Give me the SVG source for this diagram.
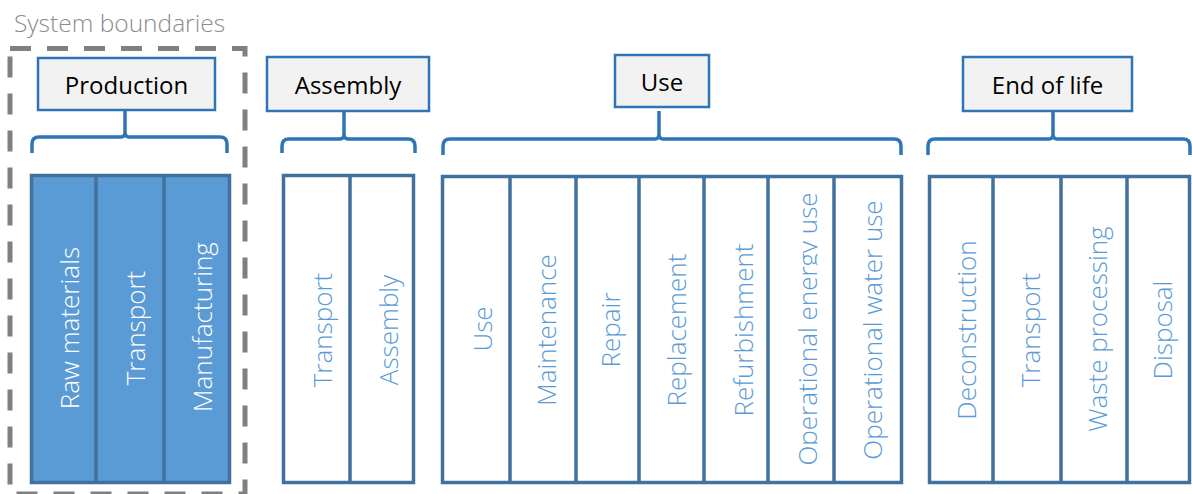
<svg xmlns="http://www.w3.org/2000/svg" width="1192" height="494" viewBox="0 0 1192 494">
<defs>
<style>
.hdr{fill:#F2F2F2;stroke:#2E75B6;stroke-width:2.5}
.htxt{font-family:"Open Sans","Liberation Sans",sans-serif;font-size:24px;fill:#000;text-anchor:middle}
.col{fill:#fff;stroke:#41719C;stroke-width:3.5}
.colf{fill:#5B9BD5;stroke:#41719C;stroke-width:3.5}
.div{stroke:#41719C;stroke-width:3.5}
.ctxt{font-family:"Open Sans","Liberation Sans",sans-serif;font-weight:300;font-size:26px;fill:#5B9BD5;text-anchor:middle}
.wtxt{fill:#fff}
.brace{fill:none;stroke:#2E75B6;stroke-width:3.5;stroke-linejoin:round}
</style>
<clipPath id="clipEnergy"><rect x="768" y="176" width="49.5" height="308"/></clipPath>
</defs>
<rect width="1192" height="494" fill="#fff"/>

<g id="system-boundaries">
<text x="14" y="32" font-family="'Open Sans','Liberation Sans',sans-serif" font-weight="300" font-size="24.5" fill="#8C8C8C">System boundaries</text>
<rect x="10" y="48.5" width="235" height="445.5" fill="none" stroke="#808080" stroke-width="5" stroke-dasharray="21 16"/>
</g>

<g id="connectors">
<path class="brace" d="M32,153 V144 Q32,137 39,137 H121 Q125,137 125,132 V110 M125,132 Q125,137 129,137 H220 Q227,137 227,144 V153"/>
<path class="brace" d="M282,153 V146 Q282,139 289,139 H340 Q344,139 344,134 V111 M344,134 Q344,139 348,139 H408 Q415,139 415,146 V153"/>
<path class="brace" d="M443,155 V146 Q443,139 450,139 H655 Q659,139 659,134 V111 M659,134 Q659,139 663,139 H894 Q901,139 901,146 V155"/>
<path class="brace" d="M928,155 V146 Q928,139 935,139 H1049 Q1053,139 1053,134 V111 M1053,134 Q1053,139 1057,139 H1183 Q1190,139 1190,146 V155"/>
</g>

<g id="production">
<rect class="hdr" x="38" y="58" width="177" height="52"/>
<text class="htxt" x="126.5" y="94">Production</text>
<rect class="colf" x="31.5" y="175.5" width="198" height="307"/>
<line class="div" x1="96" y1="175.5" x2="96" y2="482.5"/>
<line class="div" x1="164" y1="175.5" x2="164" y2="482.5"/>
<text class="ctxt wtxt" transform="translate(79,328) rotate(-90)">Raw materials</text>
<text class="ctxt wtxt" transform="translate(145,328) rotate(-90)">Transport</text>
<text class="ctxt wtxt" transform="translate(212,327) rotate(-90)">Manufacturing</text>
</g>

<g id="assembly">
<rect class="hdr" x="267" y="57" width="162" height="54"/>
<text class="htxt" x="348" y="94">Assembly</text>
<rect class="col" x="283.5" y="175.5" width="130" height="307"/>
<line class="div" x1="350" y1="175.5" x2="350" y2="482.5"/>
<text class="ctxt" transform="translate(332,330) rotate(-90)">Transport</text>
<text class="ctxt" transform="translate(398,330) rotate(-90)">Assembly</text>
</g>

<g id="use">
<rect class="hdr" x="615" y="55" width="94" height="52"/>
<text class="htxt" x="662" y="91">Use</text>
<rect class="col" x="442.5" y="176.5" width="459" height="306"/>
<line class="div" x1="510" y1="176.5" x2="510" y2="482.5"/>
<line class="div" x1="576" y1="176.5" x2="576" y2="482.5"/>
<line class="div" x1="639" y1="176.5" x2="639" y2="482.5"/>
<line class="div" x1="704" y1="176.5" x2="704" y2="482.5"/>
<line class="div" x1="768" y1="176.5" x2="768" y2="482.5"/>
<line class="div" x1="834" y1="176.5" x2="834" y2="482.5"/>
<text class="ctxt" transform="translate(492,329) rotate(-90)">Use</text>
<text class="ctxt" transform="translate(556,330) rotate(-90)">Maintenance</text>
<text class="ctxt" transform="translate(620,330) rotate(-90)">Repair</text>
<text class="ctxt" transform="translate(686,330) rotate(-90)">Replacement</text>
<text class="ctxt" transform="translate(753,330) rotate(-90)">Refurbishment</text>
<g clip-path="url(#clipEnergy)"><text class="ctxt" transform="translate(817,329) rotate(-90)">Operational energy use</text></g>
<text class="ctxt" transform="translate(882,330) rotate(-90)">Operational water use</text>
</g>

<g id="end-of-life">
<rect class="hdr" x="963" y="57" width="169" height="54"/>
<text class="htxt" x="1047.5" y="94">End of life</text>
<rect class="col" x="929.5" y="176.5" width="260" height="306"/>
<line class="div" x1="993" y1="176.5" x2="993" y2="482.5"/>
<line class="div" x1="1061" y1="176.5" x2="1061" y2="482.5"/>
<line class="div" x1="1127" y1="176.5" x2="1127" y2="482.5"/>
<text class="ctxt" transform="translate(976,330) rotate(-90)">Deconstruction</text>
<text class="ctxt" transform="translate(1040,330) rotate(-90)">Transport</text>
<text class="ctxt" transform="translate(1107,329) rotate(-90)">Waste processing</text>
<text class="ctxt" transform="translate(1172,330) rotate(-90)">Disposal</text>
</g>
</svg>
